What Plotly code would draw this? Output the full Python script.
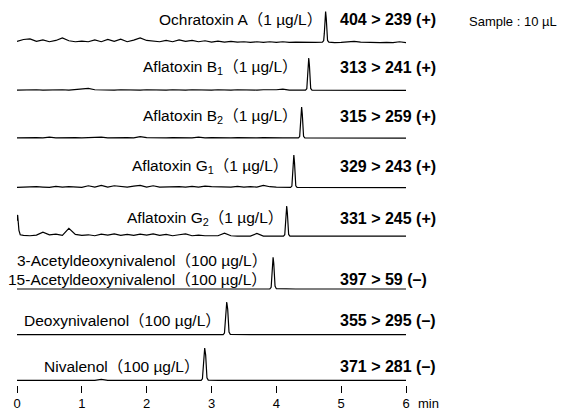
import plotly.graph_objects as go

# ---------------- data ----------------
TIME = [round(i * 0.1, 1) for i in range(61)]  # sampling grid, min

compounds = ["Ochratoxin A", "Aflatoxin B<sub>1</sub>", "Aflatoxin B<sub>2</sub>",
             "Aflatoxin G<sub>1</sub>", "Aflatoxin G<sub>2</sub>",
             "3-Acetyldeoxynivalenol|15-Acetyldeoxynivalenol",
             "Deoxynivalenol", "Nivalenol"]
concentrations = ["1 µg/L", "1 µg/L", "1 µg/L", "1 µg/L", "1 µg/L",
                  "100 µg/L", "100 µg/L", "100 µg/L"]
transitions = ["404 > 239 (+)", "313 > 241 (+)", "315 > 259 (+)", "329 > 243 (+)",
               "331 > 245 (+)", "397 > 59 (–)", "355 > 295 (–)", "371 > 281 (–)"]

baseline_ota = [4, 10, 12, 4, 9, 3, 7, 15, 6, 3, 5, 3, 9, 3, 10, 4, 11, 3, 8, 15, 7, 4, 3, 7, 3,
                9, 4, 7, 3, 6, 2, 5, 2, 4, 2, 3, 1, 3, 1, 3, 1, 3, 1, 2, 1, 2, 1, 2, 1, 0, 1, 3,
                4, 2, 1, 1, 0, 1, 0, 3, 0]
baseline_b1 = [2, 3, 2, 3, 2, 3, 2, 3, 2, 3, 4, 7, 3, 2, 3, 2, 3, 2, 3, 2, 3, 2, 3, 2, 3, 2, 2,
               3, 2, 3, 2, 3, 2, 2, 3, 2, 3, 2, 3, 2, 3, 5, 2, 2, 2, 2, 2, 2, 2, 1, 1, 2, 1, 1,
               2, 1, 1, 1, 1, 1, 1]
baseline_b2 = [2, 3, 2, 3, 2, 4, 2, 3, 2, 3, 2, 3, 2, 4, 2, 3, 2, 3, 2, 6, 3, 2, 3, 2, 3, 2, 3,
               2, 4, 2, 3, 2, 3, 2, 3, 2, 3, 2, 3, 2, 3, 2, 2, 2, 2, 2, 2, 2, 2, 2, 1, 2, 1, 2,
               1, 2, 1, 2, 1, 1, 1]
baseline_g1 = [2, 3, 2, 4, 3, 2, 5, 3, 4, 3, 2, 7, 3, 8, 3, 7, 4, 3, 6, 8, 3, 7, 3, 4, 3, 4, 3,
               5, 3, 6, 4, 3, 4, 3, 5, 3, 4, 3, 8, 4, 3, 2, 2, 2, 2, 2, 2, 2, 2, 1, 2, 1, 2, 1,
               2, 1, 2, 1, 2, 1, 1]
baseline_g2 = [3, 4, 3, 5, 14, 6, 8, 4, 26, 7, 4, 6, 3, 8, 5, 9, 4, 7, 4, 8, 5, 9, 4, 7, 3, 6,
               9, 3, 5, 3, 4, 3, 11, 3, 2, 3, 2, 10, 2, 2, 2, 2, 2, 2, 2, 3, 2, 2, 3, 2, 2, 2,
               3, 2, 2, 2, 2, 2, 2, 2, 2]
baseline_adon = [1, 1, 1, 1, 1, 1, 1, 1, 1, 1, 1, 1, 1, 1, 1, 1, 1, 1, 1, 1, 1, 1, 1, 1, 1, 1,
                 1, 1, 1, 1, 1, 1, 1, 1, 1, 1, 1, 1, 1, 1, 1, 1, 1, 1, 1, 1, 1, 1, 1, 1, 1, 1,
                 1, 1, 1, 1, 1, 1, 1, 1, 1]
baseline_don = [1, 1, 1, 1, 1, 1, 1, 1, 1, 1, 1, 1, 1, 1, 1, 1, 1, 1, 1, 1, 1, 1, 1, 1, 1, 1,
                1, 1, 1, 1, 1, 1, 1, 1, 1, 1, 1, 1, 1, 1, 1, 1, 1, 1, 1, 1, 1, 1, 1, 1, 1, 1,
                1, 1, 1, 1, 2, 3, 3, 2, 1]
baseline_niv = [1, 1, 1, 1, 1, 1, 1, 1, 1, 1, 1, 1, 1, 4, 1, 1, 1, 1, 1, 1, 1, 1, 1, 1, 1, 1,
                1, 1, 1, 1, 1, 1, 1, 1, 1, 1, 1, 1, 1, 1, 1, 1, 1, 1, 1, 1, 1, 1, 1, 1, 1, 1,
                1, 1, 1, 1, 1, 1, 1, 1, 1]

# peak (and spike) points: retention times and intensities
peak_t_ota = [4.71, 4.73, 4.74, 4.75, 4.76, 4.77, 4.78, 4.79, 4.81]
peak_v_ota = [2, 6, 29, 76, 97, 76, 29, 7, 2]
peak_t_b1 = [4.45, 4.47, 4.48, 4.49, 4.50, 4.51, 4.52, 4.53, 4.55]
peak_v_b1 = [2, 6, 30, 80, 102, 80, 30, 7, 2]
peak_t_b2 = [4.34, 4.36, 4.37, 4.38, 4.39, 4.40, 4.41, 4.42, 4.44]
peak_v_b2 = [2, 6, 29, 77, 98, 77, 29, 7, 2]
peak_t_g1 = [4.22, 4.24, 4.25, 4.26, 4.27, 4.28, 4.29, 4.30, 4.32]
peak_v_g1 = [2, 6, 30, 80, 103, 80, 30, 7, 2]
peak_t_g2 = [0.0, 0.01, 0.03, 0.05, 4.11, 4.13, 4.14, 4.15, 4.16, 4.17, 4.18, 4.19, 4.21]
peak_v_g2 = [50, 68, 20, 6, 2, 6, 28, 75, 96, 75, 28, 7, 2]
peak_t_adon = [3.90, 3.92, 3.93, 3.94, 3.95, 3.96, 3.97, 3.98, 4.00]
peak_v_adon = [1, 6, 30, 80, 100, 82, 36, 10, 2]
peak_t_don = [3.18, 3.20, 3.21, 3.22, 3.235, 3.25, 3.26, 3.27, 3.29]
peak_v_don = [1, 6, 30, 80, 103, 80, 32, 9, 2]
peak_t_niv = [2.84, 2.86, 2.87, 2.88, 2.895, 2.91, 2.92, 2.93, 2.95]
peak_v_niv = [1, 6, 30, 80, 102, 80, 32, 9, 2]

baselines = [baseline_ota, baseline_b1, baseline_b2, baseline_g1, baseline_g2,
             baseline_adon, baseline_don, baseline_niv]
peak_times = [peak_t_ota, peak_t_b1, peak_t_b2, peak_t_g1, peak_t_g2,
              peak_t_adon, peak_t_don, peak_t_niv]
peak_vals = [peak_v_ota, peak_v_b1, peak_v_b2, peak_v_g1, peak_v_g2,
             peak_v_adon, peak_v_don, peak_v_niv]

x_ticks = [0, 1, 2, 3, 4, 5, 6]

# ---------------- layout / style ----------------
OFF = 8                       # page body margin
W, H = 567 - OFF, 412 - OFF
ML = 17 - OFF
PLOT_W = 389
MR = W - ML - PLOT_W
PXM = PLOT_W / 6.0            # px per minute
BASE_PX = [42.7, 90.7, 138.5, 188.0, 236.7, 289.3, 335.0, 380.7]  # baseline rows (screen px)
PX_BELOW, PX_ABOVE = 4, 34
PX_PER_100 = 32.0
Y_RANGE = [-PX_BELOW / PX_PER_100 * 100, PX_ABOVE / PX_PER_100 * 100]
LABEL_RIGHT_PX = [324, 300, 300, 290, 285, 269, 223, 201]   # right edge of label box
LABEL_Y = [74, 72, 70, 68, 57, 0, 46, 44]
ADON_Y = [91, 31]
TRANS_LEFT_PX = 338
TRANS_Y = [74, 72, 70, 68, 57, 31, 46, 44]
SAMPLE_Y = 66
FONT = "Liberation Sans, Arial, Noto Sans CJK JP, sans-serif"


def xdata(px):
    return (px - OFF - ML) / PXM


fig = go.Figure()
layout = dict(
    width=W, height=H,
    margin=dict(l=ML, r=MR, t=0, b=0, pad=0),
    paper_bgcolor="white", plot_bgcolor="white",
    showlegend=False,
    font=dict(family=FONT, size=13, color="black"),
    xaxis=dict(range=[0, 6], anchor="y8", tickvals=x_ticks, ticks="outside",
               ticklen=7, tickwidth=1, tickcolor="black", showline=False,
               showgrid=False, zeroline=False, tickfont=dict(size=13)),
)
annotations = []

for i in range(8):
    pts = {}
    for t, v in zip(TIME, baselines[i]):
        if all(abs(t - pt) > 0.045 for pt in peak_times[i]):
            pts[t] = v
    for t, v in zip(peak_times[i], peak_vals[i]):
        pts[t] = v
    ts = sorted(pts)
    vs = [pts[t] for t in ts]
    yname = "y" if i == 0 else f"y{i + 1}"
    fig.add_trace(go.Scatter(x=ts, y=vs, mode="lines", xaxis="x", yaxis=yname,
                             line=dict(color="black", width=1.2), hoverinfo="skip"))
    b = BASE_PX[i] - OFF
    dom = [1 - (b + PX_BELOW) / H, 1 - (b - PX_ABOVE) / H]
    key = "yaxis" if i == 0 else f"yaxis{i + 1}"
    layout[key] = dict(domain=dom, range=Y_RANGE, visible=False, anchor="x",
                       fixedrange=True)

    yref = "y" if i == 0 else f"y{i + 1}"
    names = compounds[i].split("|")
    ys = ADON_Y if len(names) > 1 else [LABEL_Y[i]]
    for nm, yy in zip(names, ys):
        annotations.append(dict(x=xdata(LABEL_RIGHT_PX[i]), y=yy, xref="x", yref=yref,
                                text=f"{nm}（{concentrations[i]}）",
                                showarrow=False, xanchor="right", yanchor="middle",
                                font=dict(size=15.5)))
    annotations.append(dict(x=xdata(TRANS_LEFT_PX), y=TRANS_Y[i], xref="x", yref=yref,
                            text=f"<b>{transitions[i]}</b>", showarrow=False,
                            xanchor="left", yanchor="middle", font=dict(size=16)))

annotations.append(dict(x=(467 - OFF - ML) / PLOT_W, y=SAMPLE_Y, xref="paper", yref="y",
                        text="Sample : 10 µL", showarrow=False, xanchor="left",
                        yanchor="middle", font=dict(size=13)))
annotations.append(dict(x=(416 - OFF - ML) / PLOT_W, y=1 - (403 - OFF) / H, xref="paper",
                        yref="paper", text="min", showarrow=False, xanchor="left",
                        yanchor="middle", font=dict(size=13)))

layout["annotations"] = annotations
fig.update_layout(**layout)
fig.write_html("out.html")
